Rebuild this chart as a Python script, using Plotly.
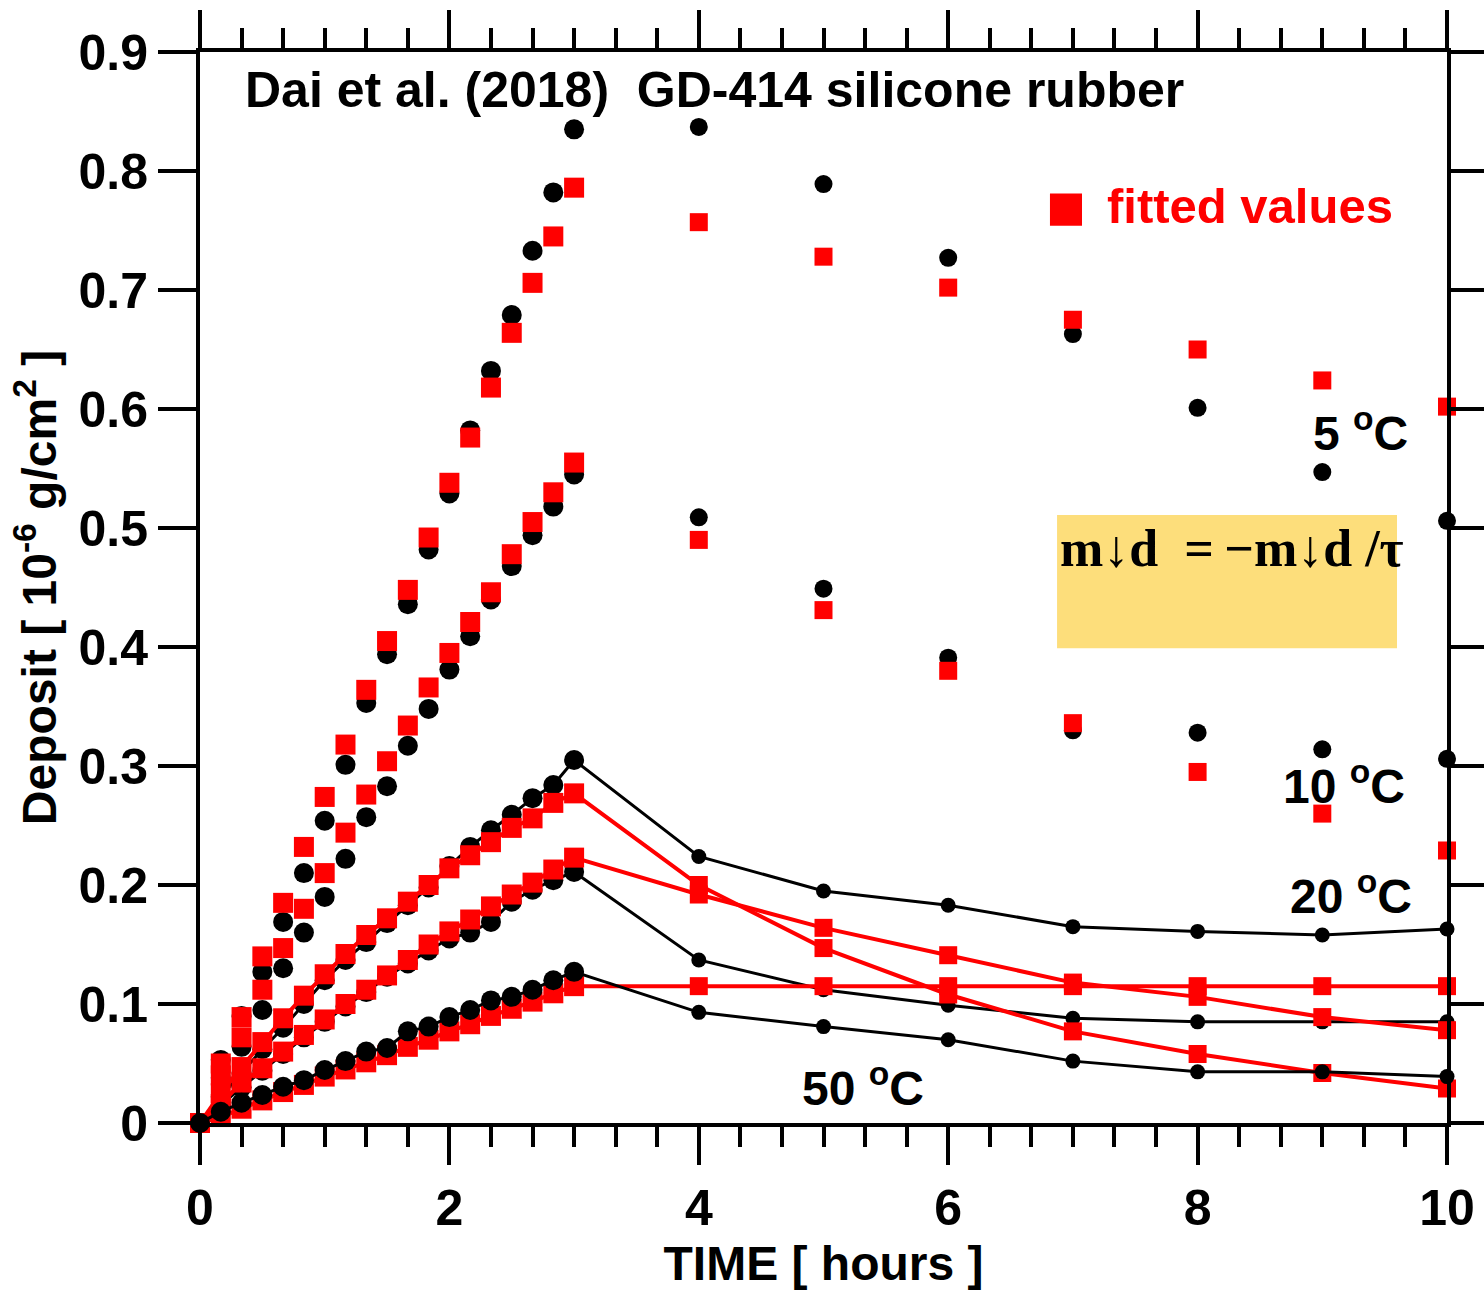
import plotly.graph_objects as go

# ---------------- data ----------------
time_h = [0, 0.1667, 0.3333, 0.5, 0.6667, 0.8333, 1.0, 1.1667, 1.3333, 1.5,
          1.6667, 1.8333, 2.0, 2.1667, 2.3333, 2.5, 2.6667, 2.8333, 3.0,
          4, 5, 6, 7, 8, 9, 10]

# 5 C : measured / fitted (markers only)
m5 = [0, 0.053, 0.09, 0.127, 0.169, 0.21, 0.254, 0.301, 0.353, 0.394,
      0.436, 0.482, 0.529, 0.582, 0.632, 0.679, 0.733, 0.782, 0.835,
      0.837, 0.789, 0.727, 0.663, 0.601, 0.547, 0.506]
f5 = [0, 0.05, 0.089, 0.14, 0.185, 0.232, 0.274, 0.318, 0.364, 0.405,
      0.448, 0.492, 0.538, 0.576, 0.618, 0.664, 0.706, 0.745, 0.786,
      0.757, 0.728, 0.702, 0.675, 0.650, 0.624, 0.602]

# 10 C : measured / fitted (markers only)
m10 = [0, 0.038, 0.064, 0.095, 0.130, 0.16, 0.19, 0.222, 0.257, 0.283,
       0.317, 0.348, 0.381, 0.409, 0.44, 0.468, 0.494, 0.518, 0.545,
       0.509, 0.449, 0.391, 0.33, 0.328, 0.314, 0.306]
f10 = [0, 0.04, 0.072, 0.112, 0.147, 0.18, 0.21, 0.244, 0.276, 0.304,
       0.334, 0.366, 0.395, 0.421, 0.446, 0.478, 0.505, 0.53, 0.555,
       0.49, 0.431, 0.38, 0.336, 0.295, 0.26, 0.229]

# curves drawn with lines
mA = [0, 0.022, 0.042, 0.062, 0.08, 0.1, 0.12, 0.137, 0.152, 0.168,
      0.183, 0.198, 0.216, 0.232, 0.246, 0.259, 0.273, 0.284, 0.305,
      0.224, 0.195, 0.183, 0.165, 0.161, 0.158, 0.163]
fA = [0, 0.025, 0.047, 0.068, 0.088, 0.107, 0.125, 0.142, 0.158, 0.172,
      0.186, 0.2, 0.214, 0.225, 0.236, 0.248, 0.256, 0.269, 0.277,
      0.2, 0.147, 0.108, 0.077, 0.058, 0.042, 0.029]
mB = [0, 0.015, 0.03, 0.044, 0.058, 0.072, 0.085, 0.098, 0.11, 0.123,
      0.134, 0.145, 0.155, 0.16, 0.169, 0.186, 0.196, 0.204, 0.211,
      0.137, 0.112, 0.099, 0.088, 0.085, 0.085, 0.085]
fB = [0, 0.016, 0.034, 0.046, 0.06, 0.074, 0.087, 0.1, 0.112, 0.124,
      0.137, 0.15, 0.161, 0.171, 0.182, 0.192, 0.202, 0.213, 0.223,
      0.192, 0.164, 0.141, 0.118, 0.106, 0.089, 0.078]
mC = [0, 0.0095, 0.017, 0.0235, 0.0305, 0.036, 0.0445, 0.052, 0.06, 0.063,
      0.077, 0.081, 0.089, 0.095, 0.103, 0.106, 0.112, 0.12, 0.127,
      0.093, 0.081, 0.07, 0.052, 0.043, 0.043, 0.039]
fC = [0, 0.005, 0.012, 0.019, 0.026, 0.032, 0.039, 0.045, 0.051, 0.057,
      0.064, 0.07, 0.077, 0.083, 0.09, 0.096, 0.102, 0.109, 0.115,
      0.115, 0.115, 0.115, 0.115, 0.115, 0.115, 0.115]

x_ticks = [0, 2, 4, 6, 8, 10]
y_ticks = [0, 0.1, 0.2, 0.3, 0.4, 0.5, 0.6, 0.7, 0.8, 0.9]
y_ticklabels = ["0", "0.1", "0.2", "0.3", "0.4", "0.5", "0.6", "0.7", "0.8", "0.9"]

temp_labels = [("5 <sup>o</sup>C", 9.31, 0.582),
               ("10 <sup>o</sup>C", 9.17, 0.286),
               ("20 <sup>o</sup>C", 9.23, 0.193),
               ("50 <sup>o</sup>C", 5.32, 0.032)]

# ---------------- figure ----------------
BLACK = "#000000"
RED = "#ff0000"
FONT = "Liberation Sans, Arial, sans-serif"

fig = go.Figure()

big = [20 if t <= 3 else 18 for t in time_h]
small_c = [20 if t <= 3 else 15 for t in time_h]


def pts(y, sym, color, size, name):
    fig.add_trace(go.Scatter(x=time_h, y=y, mode="markers", name=name,
                             marker=dict(symbol=sym, color=color, size=size, opacity=1,
                                         line=dict(width=0)),
                             cliponaxis=False, showlegend=False))


def curve(y, sym, color, size, lw, name):
    fig.add_trace(go.Scatter(x=time_h, y=y, mode="lines+markers", name=name,
                             line=dict(color=color, width=lw),
                             marker=dict(symbol=sym, color=color, size=size, opacity=1,
                                         line=dict(width=0)),
                             cliponaxis=False, showlegend=False))


pts(m5, "circle", BLACK, big, "5C measured")
pts(f5, "square", RED, big, "5C fitted")
pts(m10, "circle", BLACK, big, "10C measured")
pts(f10, "square", RED, big, "10C fitted")
curve(mA, "circle", BLACK, small_c, 3, "A measured")
curve(mB, "circle", BLACK, small_c, 3, "B measured")
curve(fA, "square", RED, big, 4, "A fitted")
curve(fB, "square", RED, big, 4, "B fitted")
curve(fC, "square", RED, big, 4, "C fitted")
curve(mC, "circle", BLACK, small_c, 3, "C measured")

annotations = [
    dict(text="<b>Dai et al. (2018) \u00a0GD-414 silicone rubber</b>", x=0.345, y=0.868,
         xref="x", yref="y", xanchor="left", yanchor="middle", showarrow=False,
         font=dict(family=FONT, size=50, color=BLACK)),
    dict(text="<b>fitted values</b>", x=7.26, y=0.771, xref="x", yref="y",
         xanchor="left", yanchor="middle", showarrow=False,
         font=dict(family=FONT, size=49, color=RED)),
    dict(text="<b>m\u2193d \u00a0=\u2009\u2212m\u2193d /\u03c4</b>", x=6.88, y=0.483,
         xref="x", yref="y", xanchor="left", yanchor="middle", showarrow=False,
         font=dict(family="Liberation Serif, Times New Roman, serif", size=52, color=BLACK)),
]
for txt, lx, ly in temp_labels:
    annotations.append(dict(text="<b>" + txt + "</b>", x=lx, y=ly, xref="x", yref="y",
                            xanchor="center", yanchor="middle", showarrow=False,
                            font=dict(family=FONT, size=48, color=BLACK)))

shapes = [
    dict(type="rect", xref="x", yref="y", x0=6.873, x1=9.599, y0=0.399, y1=0.511,
         fillcolor="#fdde7b", line=dict(width=0), layer="below"),
    dict(type="rect", xref="x", yref="y", x0=6.816, x1=7.073, y0=0.754, y1=0.781,
         fillcolor=RED, line=dict(width=0), layer="above"),
]

fig.update_layout(
    width=1484, height=1290,
    margin=dict(l=200, r=37, t=52, b=167, autoexpand=False),
    paper_bgcolor="white", plot_bgcolor="white",
    font=dict(family=FONT, size=48, color=BLACK, weight="bold"),
    annotations=annotations, shapes=shapes,
    xaxis=dict(range=[0, 10], tickvals=x_ticks, ticks="outside", ticklen=38, tickwidth=4,
               tickcolor=BLACK, showline=True, linewidth=4, linecolor=BLACK, mirror="ticks",
               showgrid=False, zeroline=False, automargin=False,
               tickfont=dict(size=50, weight="bold"),
               minor=dict(dtick=1/3, tick0=0, ticks="outside", ticklen=20, tickwidth=4,
                          tickcolor=BLACK, showgrid=False),
               title=dict(text="<b>TIME [ hours ]</b>", font=dict(size=48), standoff=18)),
    yaxis=dict(range=[0, 0.9], tickvals=y_ticks, ticktext=y_ticklabels, ticks="outside",
               ticklen=38, tickwidth=4, tickcolor=BLACK, showline=True, linewidth=4,
               linecolor=BLACK, mirror="ticks", showgrid=False, zeroline=False,
               automargin=False, tickfont=dict(size=50, weight="bold"),
               title=dict(text="<b>Deposit [ 10<sup>-6</sup> g/cm<sup>2</sup> ]</b>",
                          font=dict(size=48), standoff=8)),
)

fig.write_html("out.html")
